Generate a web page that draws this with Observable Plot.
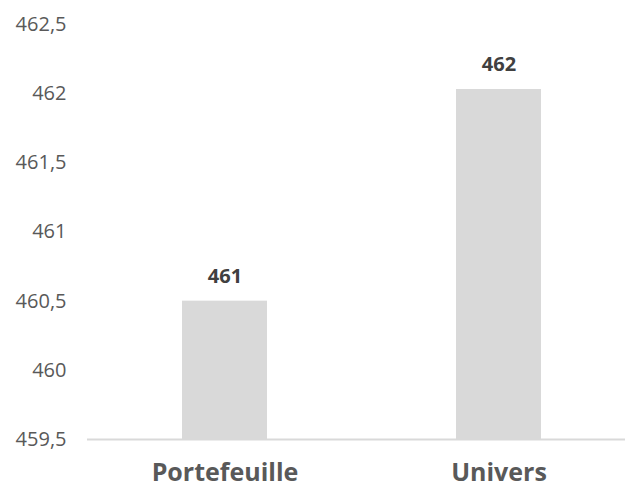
<!DOCTYPE html>
<html>
<head>
<meta charset="utf-8">
<script src="https://cdn.jsdelivr.net/npm/d3@7"></script>
<script src="https://cdn.jsdelivr.net/npm/@observablehq/plot@0.6"></script>
<style>
  html, body { margin: 0; padding: 0; background: #fff; }
  #chart svg { display: block; }
</style>
</head>
<body>
<div id="chart"></div>
<script>
const categories = ["Portefeuille", "Univers"];
const values = [460.5, 462.03];
const valueLabels = ["461", "462"];
const yTicks = [459.5, 460, 460.5, 461, 461.5, 462, 462.5];

const data = categories.map((c, i) => ({category: c, value: values[i], label: valueLabels[i]}));
const fmt = v => String(v).replace(".", ",");

const chart = Plot.plot({
  width: 625,
  height: 489,
  marginTop: 24,
  marginBottom: 50,
  marginLeft: 87,
  marginRight: 0,
  style: {fontFamily: "'Open Sans', sans-serif", background: "#fff"},
  x: {domain: categories, range: [87, 635], paddingInner: 0.69, paddingOuter: 0.345, label: null},
  y: {domain: [459.5, 462.5], label: null},
  marks: [
    Plot.barY(data, {x: "category", y1: 459.5, y2: "value", fill: "#d9d9d9"}),
    Plot.ruleY([459.5], {stroke: "#d9d9d9", strokeWidth: 2}),
    Plot.text(data, {x: "category", y: "value", text: "label", dy: -25, fontSize: 20, fontWeight: "bold", fill: "#404040"}),
    Plot.axisY({ticks: yTicks, tickFormat: fmt, tickSize: 0, tickPadding: 21, fontSize: 20, fill: "#595959", label: null}),
    Plot.axisX({tickSize: 0, tickPadding: 24, fontSize: 25, fontWeight: "bold", fill: "#595959", label: null})
  ]
});
document.getElementById("chart").appendChild(chart);
</script>
</body>
</html>
